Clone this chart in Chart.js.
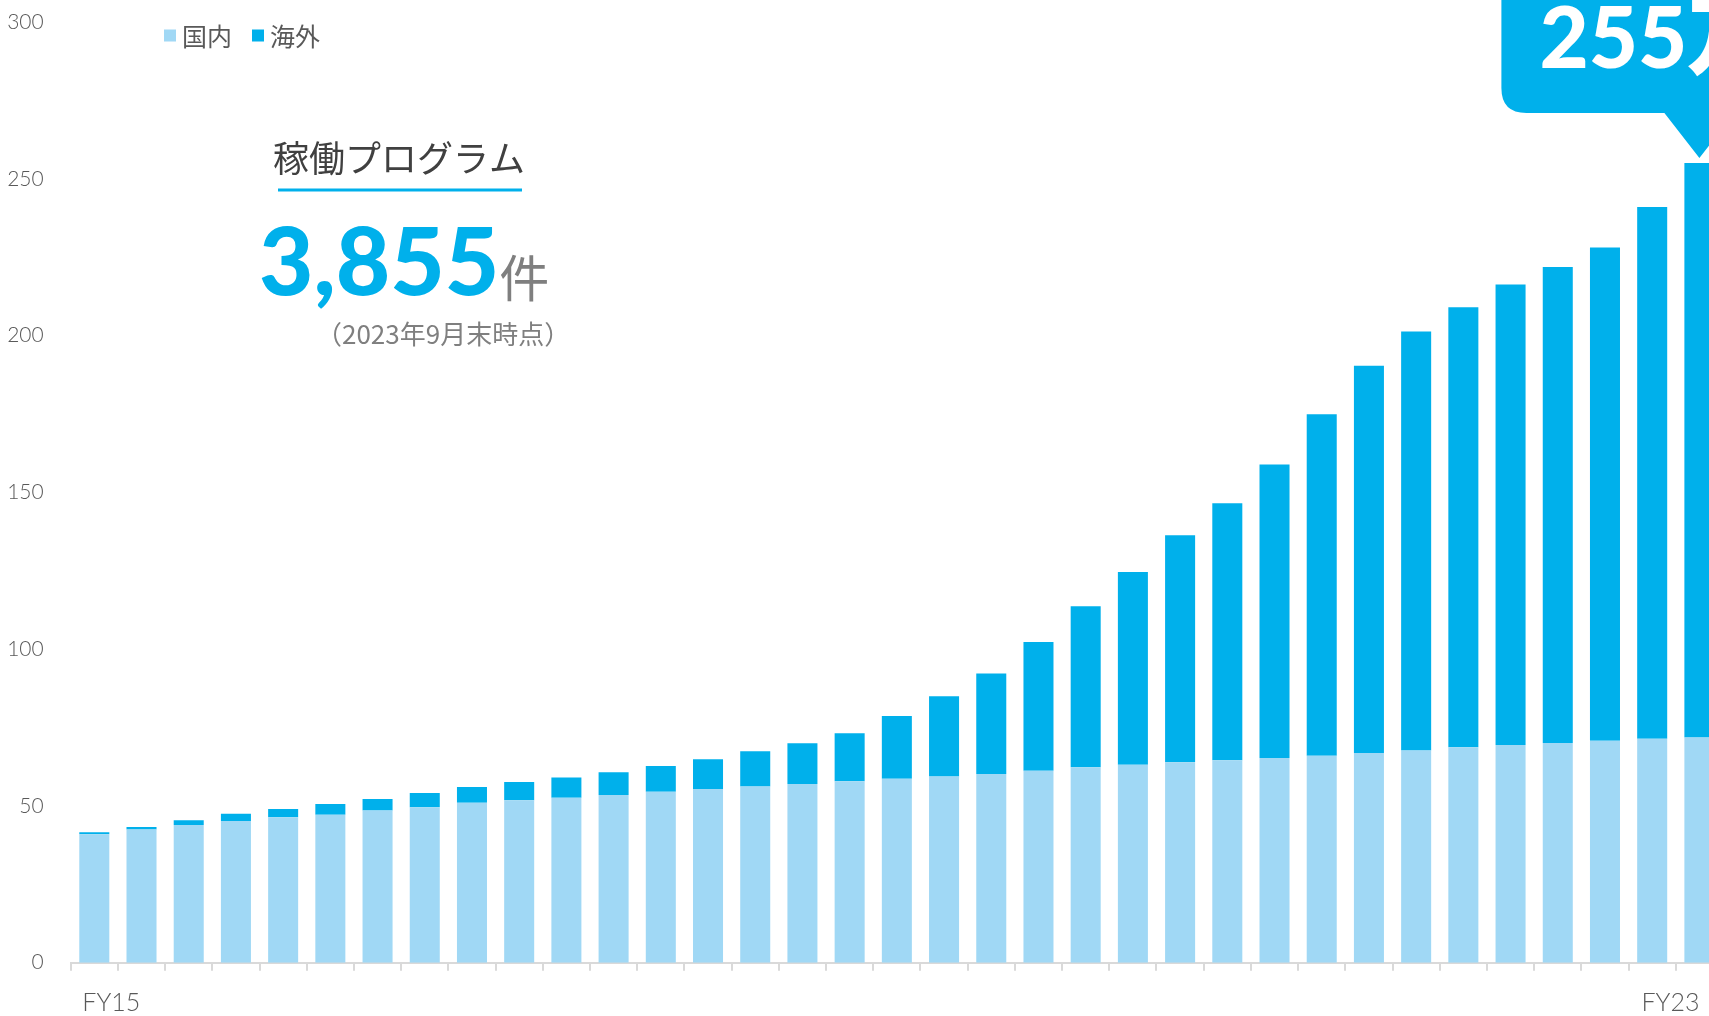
<!DOCTYPE html>
<html lang="ja">
<head>
<meta charset="UTF-8">
<title>稼働プログラム</title>
<script src="https://cdn.jsdelivr.net/npm/chart.js"></script>
<style>
  html, body { margin: 0; padding: 0; overflow: hidden; background: #fff; }
  canvas { display: block; }
</style>
</head>
<body>
<canvas id="programChart" width="1760" height="1016"></canvas>
<script>
// quarters, FY15 1Q .. FY23 3Q
const periods = [
  'FY15 1Q', 'FY15 2Q', 'FY15 3Q', 'FY15 4Q',
  'FY16 1Q', 'FY16 2Q', 'FY16 3Q', 'FY16 4Q',
  'FY17 1Q', 'FY17 2Q', 'FY17 3Q', 'FY17 4Q',
  'FY18 1Q', 'FY18 2Q', 'FY18 3Q', 'FY18 4Q',
  'FY19 1Q', 'FY19 2Q', 'FY19 3Q', 'FY19 4Q',
  'FY20 1Q', 'FY20 2Q', 'FY20 3Q', 'FY20 4Q',
  'FY21 1Q', 'FY21 2Q', 'FY21 3Q', 'FY21 4Q',
  'FY22 1Q', 'FY22 2Q', 'FY22 3Q', 'FY22 4Q',
  'FY23 1Q', 'FY23 2Q', 'FY23 3Q'
];
const axisEnds = ['FY15', 'FY23'];

const domestic = [
  41.0, 42.5, 43.9, 45.2, 46.4, 47.2, 48.5, 49.6, 51.0, 51.8,
  52.6, 53.5, 54.5, 55.4, 56.2, 57.0, 57.9, 58.7, 59.4, 60.2,
  61.2, 62.3, 63.1, 63.9, 64.6, 65.3, 66.0, 66.9, 67.7, 68.7,
  69.4, 70.1, 70.8, 71.4, 71.8
];
const overseas = [
  0.6, 0.8, 1.5, 2.3, 2.6, 3.4, 3.7, 4.5, 5.0, 5.8,
  6.5, 7.2, 8.2, 9.5, 11.2, 13.0, 15.3, 20.0, 25.6, 32.0,
  41.1, 51.4, 61.5, 72.4, 81.9, 93.6, 108.9, 123.5, 133.6, 140.3,
  146.9, 151.8, 157.3, 169.6, 183.2
];
const yTicks = [0, 50, 100, 150, 200, 250, 300];

const LIGHT = '#a0d8f5';
const BLUE = '#00b0eb';
const GREY = '#595959';

const overlay = {
  id: 'overlay',
  afterDraw(chart) {
    const ctx = chart.ctx;
    const area = chart.chartArea;
    const lastIdx = periods.length - 1;
    const firstBar = chart.getDatasetMeta(0).data[0];
    const topBar = chart.getDatasetMeta(1).data[lastIdx];
    ctx.save();

    // first / last period under the axis
    ctx.font = '300 25px Lato';
    ctx.fillStyle = GREY;
    ctx.textBaseline = 'middle';
    ctx.textAlign = 'left';
    ctx.fillText(axisEnds[0], firstBar.x - 12, area.bottom + 40);
    ctx.textAlign = 'right';
    ctx.fillText(axisEnds[1], topBar.x, area.bottom + 40);

    // legend
    ctx.textAlign = 'left';
    ctx.font = '25px "Noto Sans CJK JP"';
    let lx = 164;
    chart.data.datasets.forEach(ds => {
      ctx.fillStyle = ds.backgroundColor;
      ctx.fillRect(lx, 29.5, 12, 12);
      ctx.fillStyle = GREY;
      ctx.fillText(ds.label, lx + 18, 36);
      lx += 18 + ctx.measureText(ds.label).width + 20;
    });

    // headline block
    ctx.fillStyle = '#404040';
    ctx.font = '36px "Noto Sans CJK JP"';
    ctx.fillText('稼働プログラム', 273, 158.5);
    ctx.fillStyle = BLUE;
    ctx.fillRect(278, 188.5, 244, 3);
    ctx.font = '900 94px Lato';
    ctx.textBaseline = 'alphabetic';
    ctx.fillText('3,855', 259, 295);
    const numW = ctx.measureText('3,855').width;
    ctx.fillStyle = '#7f7f7f';
    ctx.textBaseline = 'middle';
    ctx.font = '50px "Noto Sans CJK JP"';
    ctx.fillText('件', 259 + numW, 278);
    ctx.font = '26px "Noto Sans CJK JP"';
    ctx.fillText('（2023年9月末時点）', 316, 334.5);

    // callout over the latest bar
    const total = domestic[lastIdx] + overseas[lastIdx];
    const tipX = topBar.x, tipY = topBar.y - 5;
    const boxB = tipY - 45, boxL = tipX - 198, r = 25;
    ctx.fillStyle = BLUE;
    ctx.beginPath();
    ctx.moveTo(boxL, -40);
    ctx.lineTo(boxL, boxB - r);
    ctx.quadraticCurveTo(boxL, boxB, boxL + r, boxB);
    ctx.lineTo(tipX - 35, boxB);
    ctx.lineTo(tipX, tipY);
    ctx.lineTo(tipX + 35, boxB);
    ctx.lineTo(chart.width + 10, boxB);
    ctx.lineTo(chart.width + 10, -40);
    ctx.closePath();
    ctx.fill();
    ctx.fillStyle = '#fff';
    ctx.font = '900 85px Lato, "Noto Sans CJK JP"';
    ctx.textBaseline = 'alphabetic';
    ctx.fillText(Math.round(total) + '万', boxL + 38, 68);
    ctx.restore();
  }
};

new Chart(document.getElementById('programChart'), {
  type: 'bar',
  data: {
    labels: periods,
    datasets: [
      { label: '国内', data: domestic, backgroundColor: LIGHT },
      { label: '海外', data: overseas, backgroundColor: BLUE }
    ]
  },
  options: {
    responsive: false,
    animation: false,
    layout: { padding: { top: 22, right: 37, left: 0, bottom: 0 } },
    datasets: { bar: { categoryPercentage: 1, barPercentage: 0.636 } },
    plugins: { legend: { display: false }, tooltip: { enabled: false } },
    scales: {
      x: {
        stacked: true,
        afterFit: s => { s.height = 53.3; s.paddingLeft = 0; s.paddingRight = 0; },
        border: { color: '#d9d9d9', width: 2 },
        grid: { drawOnChartArea: false, drawTicks: true, tickLength: 8, color: '#d9d9d9', lineWidth: 2 },
        ticks: { display: false }
      },
      y: {
        stacked: true,
        min: 0,
        max: 300,
        afterFit: s => { s.width = 70.7; s.paddingTop = 0; s.paddingBottom = 0; },
        afterBuildTicks: s => { s.ticks = yTicks.map(v => ({ value: v })); },
        border: { display: false },
        grid: { display: false, drawTicks: false },
        ticks: { padding: 27, color: GREY, font: { family: 'Lato', size: 21, weight: '300' } }
      }
    }
  },
  plugins: [overlay]
});
</script>
</body>
</html>
